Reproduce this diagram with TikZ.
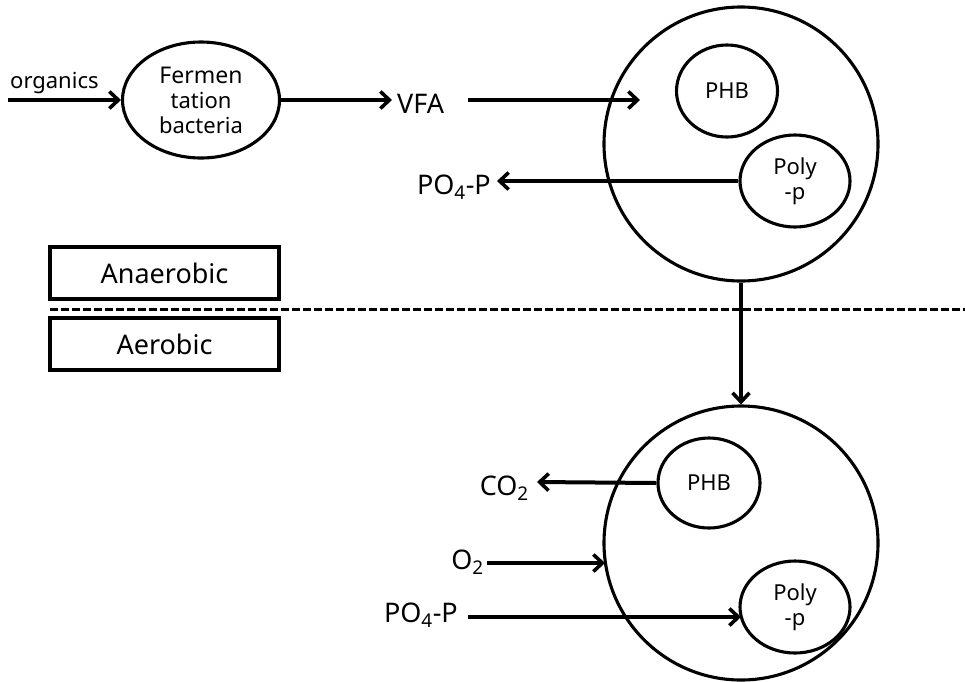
\documentclass[tikz,border=0pt]{standalone}
\usepackage{fontspec}
\setmainfont{Noto Sans}
\usetikzlibrary{arrows.meta,shapes.geometric}

\begin{document}
\begin{tikzpicture}[x=1pt,y=-1pt,
  biglabel/.style={font=\fontsize{27}{32}\selectfont, inner sep=0pt},
  smalllabel/.style={font=\fontsize{22}{26}\selectfont, inner sep=0pt},
  flow/.style={line width=4pt, -{Straight Barb[length=9pt,width=17pt,line width=3.6pt]}},
  cellbody/.style={circle, draw, line width=3.1pt, minimum size=274pt, inner sep=0pt},
  granule/.style={ellipse, draw, line width=3.1pt, inner sep=0pt, align=center,
    font=\fontsize{22}{25}\selectfont},
  phasebox/.style={draw, line width=3.1pt, minimum width=229pt, minimum height=52pt,
    inner sep=0pt, font=\fontsize{27}{32}\selectfont}
]
\useasboundingbox (0,0) rectangle (965,681);

% ---------------- anaerobic zone ----------------
\node[granule, minimum width=157pt, minimum height=116pt] (ferm) at (201,100)
  {\fontsize{23}{29}\selectfont Fermen\\tation\\bacteria};
\node[smalllabel, anchor=base west] (organics) at (10,88) {organics};
\coordinate (orgstart) at (8,100);
\draw[flow] (orgstart) -- (ferm.west);

\coordinate (vfatip) at (392,100);
\draw[flow] (ferm.east) -- (vfatip);
\node[biglabel, anchor=base west] (vfa) at (397,113) {VFA};

\node[cellbody] (cellA) at (741,144) {};
\node[granule, minimum width=101pt, minimum height=92pt] (phbA) at (727,91) {PHB};
\node[granule, minimum width=110pt, minimum height=92pt] (polyA) at (795,181) {Poly\\-p};

\coordinate (vfaout) at (468,100);
\coordinate (vfain) at (640,100);
\draw[flow] (vfaout) -- (vfain);

\coordinate (poAtip) at (497,181);
\draw[flow] (polyA.west) -- (poAtip);
\node[biglabel, anchor=base east] (poA) at (491,194) {PO\textsubscript{4}-P};

% ---------------- phase separation ----------------
\node[phasebox] (anaer) at (164.5,273) {Anaerobic};
\node[phasebox] (aer) at (164.5,344) {Aerobic};
\coordinate (sepL) at (50,309);
\coordinate (sepR) at (965,309);
\draw[line width=3pt, dash pattern=on 8pt off 3pt] (sepL) -- (sepR);

% ---------------- aerobic zone ----------------
\node[cellbody] (cellB) at (741,543) {};
\node[granule, minimum width=102pt, minimum height=90pt] (phbB) at (709,483) {PHB};
\node[granule, minimum width=110pt, minimum height=92pt] (polyB) at (795,607) {Poly\\-p};

\draw[flow] (cellA.south) -- (cellB.north);

\coordinate (co2tip) at (537,482);
\draw[flow] (phbB.west) -- (co2tip);
\node[biglabel, anchor=base east] (co2) at (529,495) {CO\textsubscript{2}};

\coordinate (o2start) at (487,563);
\coordinate (o2tip) at (605,563);
\draw[flow] (o2start) -- (o2tip);
\node[biglabel, anchor=base east] (o2) at (484,569) {O\textsubscript{2}};

% phosphate uptake ends on the left rim of the lower Poly-p granule
\coordinate (poBstart) at (468,617);
\coordinate (poBtip) at (741,617);
\draw[flow] (poBstart) -- (poBtip);
\node[biglabel, anchor=base east] (poB) at (458,622) {PO\textsubscript{4}-P};
\end{tikzpicture}
\end{document}
